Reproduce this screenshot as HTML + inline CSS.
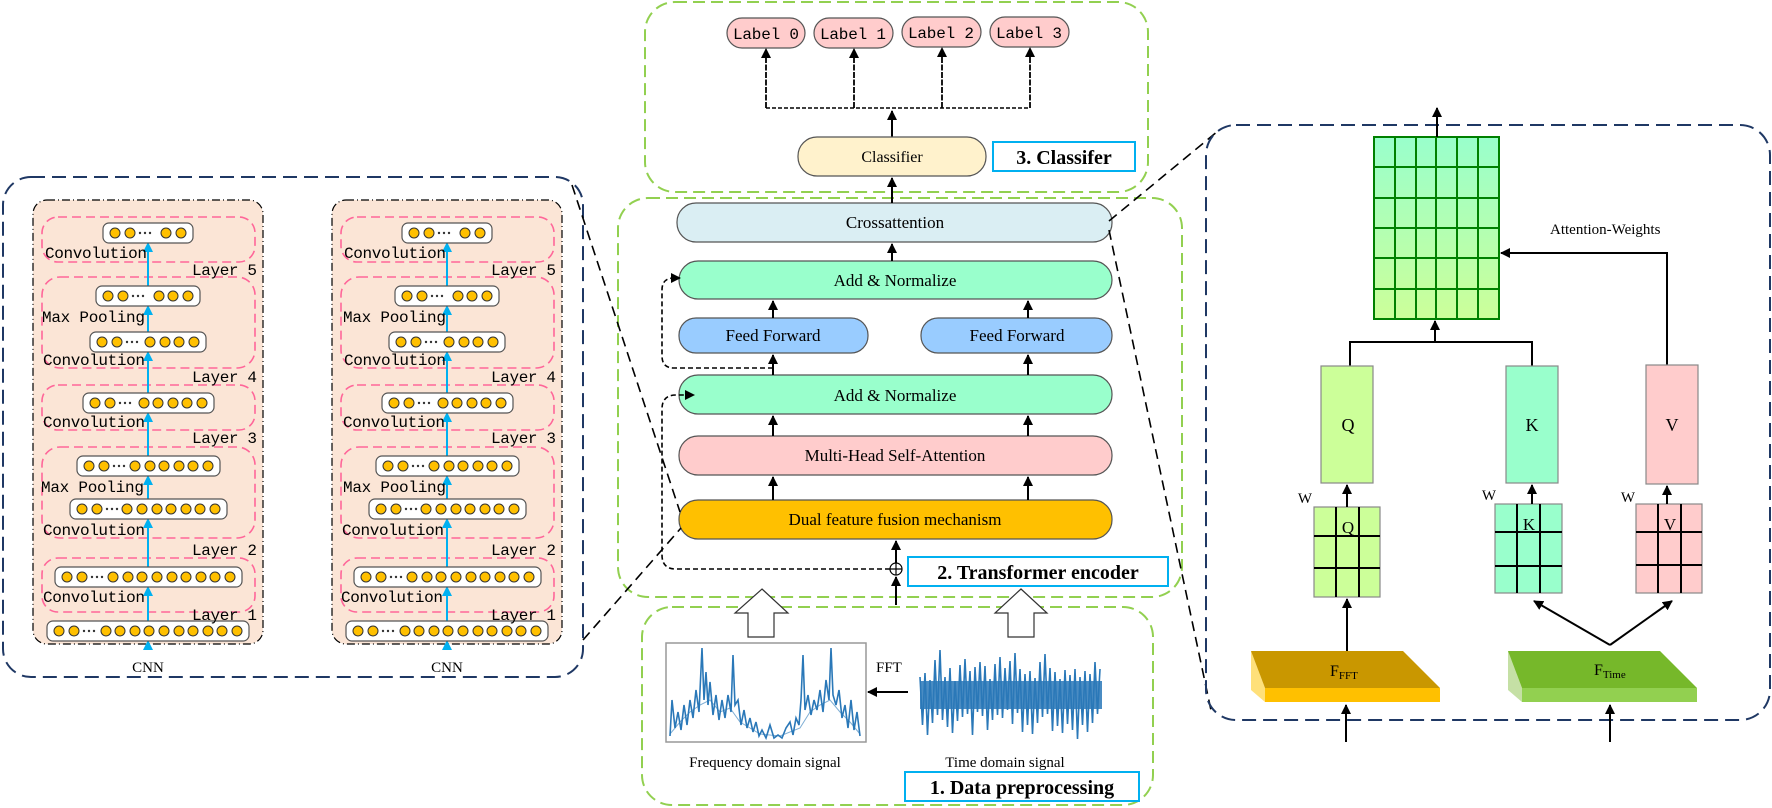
<!DOCTYPE html>
<html><head><meta charset="utf-8"><style>html,body{margin:0;padding:0;background:#fff}svg{display:block}</style></head><body>
<svg width="1772" height="808" viewBox="0 0 1772 808" xmlns="http://www.w3.org/2000/svg">
<defs>
<marker id="ah" markerWidth="10" markerHeight="10" refX="9" refY="5" orient="auto" markerUnits="userSpaceOnUse"><path d="M0,0 L10,5 L0,10 z" fill="#000"/></marker>
<marker id="ac" markerWidth="10" markerHeight="10" refX="9" refY="5" orient="auto" markerUnits="userSpaceOnUse"><path d="M0,0 L10,5 L0,10 z" fill="#00b0f0"/></marker>
<linearGradient id="gg" x1="0" y1="0" x2="0" y2="1"><stop offset="0" stop-color="#99ffcc"/><stop offset="1" stop-color="#ccff99"/></linearGradient>
<g id="c"><circle r="5" fill="#ffc000" stroke="#333" stroke-width="1"/></g>
</defs>
<style>
.s{font-family:"Liberation Serif",serif}
.m{font-family:"Liberation Mono",monospace}
.b{font-family:"Liberation Serif",serif;font-weight:bold}
</style>

<rect x="3" y="177" width="580" height="500" rx="28" fill="none" stroke="#1f3864" stroke-width="2" stroke-dasharray="14,7"/>

<g id="cnn">
<rect x="33" y="200" width="230" height="444" rx="14" fill="#fbe5d6" stroke="#000" stroke-width="1.2" stroke-dasharray="8,3,1,3"/>
<g fill="none" stroke="#ff6699" stroke-width="1.6" stroke-dasharray="9,5">
<rect x="42" y="217" width="213" height="45" rx="16"/>
<rect x="42" y="277" width="213" height="91" rx="18"/>
<rect x="42" y="385" width="213" height="45" rx="16"/>
<rect x="42" y="447" width="213" height="91" rx="18"/>
<rect x="42" y="558" width="213" height="54" rx="16"/>
</g>
<g stroke="#00b0f0" stroke-width="2" marker-end="url(#ac)">
<line x1="148" y1="644" x2="148" y2="641"/>
<line x1="148" y1="621" x2="148" y2="587"/>
<line x1="148" y1="567" x2="148" y2="519"/>
<line x1="148" y1="499" x2="148" y2="476"/>
<line x1="148" y1="456" x2="148" y2="413"/>
<line x1="148" y1="393" x2="148" y2="352"/>
<line x1="148" y1="332" x2="148" y2="306"/>
<line x1="148" y1="286" x2="148" y2="243"/>
</g>
<g fill="#fff" stroke="#555" stroke-width="1.2">
<rect x="103" y="223" width="90" height="20" rx="6"/>
<rect x="96" y="286" width="104" height="20" rx="6"/>
<rect x="90" y="332" width="116" height="20" rx="6"/>
<rect x="83" y="393" width="131" height="20" rx="6"/>
<rect x="77" y="456" width="143" height="20" rx="6"/>
<rect x="70" y="499" width="157" height="20" rx="6"/>
<rect x="55" y="567" width="187" height="20" rx="6"/>
<rect x="47" y="621" width="202" height="20" rx="6"/>
</g>
<g>
<use href="#c" x="115" y="233"/><use href="#c" x="130" y="233"/><use href="#c" x="166" y="233"/><use href="#c" x="181" y="233"/>
<use href="#c" x="108" y="296"/><use href="#c" x="123" y="296"/><use href="#c" x="159" y="296"/><use href="#c" x="173" y="296"/><use href="#c" x="188" y="296"/>
<use href="#c" x="102" y="342"/><use href="#c" x="117" y="342"/><use href="#c" x="150" y="342"/><use href="#c" x="165" y="342"/><use href="#c" x="179" y="342"/><use href="#c" x="194" y="342"/>
<use href="#c" x="95" y="403"/><use href="#c" x="110" y="403"/><use href="#c" x="144" y="403"/><use href="#c" x="158" y="403"/><use href="#c" x="173" y="403"/><use href="#c" x="187" y="403"/><use href="#c" x="202" y="403"/>
<use href="#c" x="89" y="466"/><use href="#c" x="104" y="466"/><use href="#c" x="135" y="466"/><use href="#c" x="150" y="466"/><use href="#c" x="164" y="466"/><use href="#c" x="179" y="466"/><use href="#c" x="193" y="466"/><use href="#c" x="208" y="466"/>
<use href="#c" x="82" y="509"/><use href="#c" x="97" y="509"/><use href="#c" x="127" y="509"/><use href="#c" x="142" y="509"/><use href="#c" x="157" y="509"/><use href="#c" x="171" y="509"/><use href="#c" x="186" y="509"/><use href="#c" x="200" y="509"/><use href="#c" x="215" y="509"/>
<use href="#c" x="67" y="577"/><use href="#c" x="82" y="577"/><use href="#c" x="113" y="577"/><use href="#c" x="128" y="577"/><use href="#c" x="142" y="577"/><use href="#c" x="157" y="577"/><use href="#c" x="172" y="577"/><use href="#c" x="186" y="577"/><use href="#c" x="201" y="577"/><use href="#c" x="215" y="577"/><use href="#c" x="230" y="577"/>
<use href="#c" x="59" y="631"/><use href="#c" x="74" y="631"/><use href="#c" x="106" y="631"/><use href="#c" x="120" y="631"/><use href="#c" x="135" y="631"/><use href="#c" x="149" y="631"/><use href="#c" x="164" y="631"/><use href="#c" x="179" y="631"/><use href="#c" x="193" y="631"/><use href="#c" x="208" y="631"/><use href="#c" x="222" y="631"/><use href="#c" x="237" y="631"/>
</g>
<g fill="#333">
<circle cx="140" cy="233" r="1.2"/><circle cx="145" cy="233" r="1.2"/><circle cx="150" cy="233" r="1.2"/>
<circle cx="133" cy="296" r="1.2"/><circle cx="138" cy="296" r="1.2"/><circle cx="143" cy="296" r="1.2"/>
<circle cx="127" cy="342" r="1.2"/><circle cx="132" cy="342" r="1.2"/><circle cx="137" cy="342" r="1.2"/>
<circle cx="120" cy="403" r="1.2"/><circle cx="125" cy="403" r="1.2"/><circle cx="130" cy="403" r="1.2"/>
<circle cx="114" cy="466" r="1.2"/><circle cx="119" cy="466" r="1.2"/><circle cx="124" cy="466" r="1.2"/>
<circle cx="107" cy="509" r="1.2"/><circle cx="112" cy="509" r="1.2"/><circle cx="117" cy="509" r="1.2"/>
<circle cx="92" cy="577" r="1.2"/><circle cx="97" cy="577" r="1.2"/><circle cx="102" cy="577" r="1.2"/>
<circle cx="84" cy="631" r="1.2"/><circle cx="89" cy="631" r="1.2"/><circle cx="94" cy="631" r="1.2"/>
</g>
</g>
<use href="#cnn" x="299"/>

<g class="m" font-size="16" fill="#000">
<text x="45" y="258" textLength="102">Convolution</text>
<text x="192" y="275" textLength="65">Layer 5</text>
<text x="42" y="322" textLength="103">Max Pooling</text>
<text x="43" y="365" textLength="102">Convolution</text>
<text x="192" y="382" textLength="65">Layer 4</text>
<text x="43" y="427" textLength="102">Convolution</text>
<text x="192" y="443" textLength="65">Layer 3</text>
<text x="41" y="492" textLength="103">Max Pooling</text>
<text x="43" y="535" textLength="102">Convolution</text>
<text x="192" y="555" textLength="65">Layer 2</text>
<text x="43" y="602" textLength="102">Convolution</text>
<text x="192" y="620" textLength="65">Layer 1</text>
<text x="344" y="258" textLength="102">Convolution</text>
<text x="491" y="275" textLength="65">Layer 5</text>
<text x="343" y="322" textLength="103">Max Pooling</text>
<text x="344" y="365" textLength="102">Convolution</text>
<text x="491" y="382" textLength="65">Layer 4</text>
<text x="343" y="427" textLength="102">Convolution</text>
<text x="491" y="443" textLength="65">Layer 3</text>
<text x="343" y="492" textLength="103">Max Pooling</text>
<text x="342" y="535" textLength="102">Convolution</text>
<text x="491" y="555" textLength="65">Layer 2</text>
<text x="341" y="602" textLength="102">Convolution</text>
<text x="491" y="620" textLength="65">Layer 1</text>
</g>
<g class="s" font-size="15" text-anchor="middle"><text x="148" y="672">CNN</text><text x="447" y="672">CNN</text></g>

<rect x="645" y="2" width="503" height="190" rx="30" fill="none" stroke="#92d050" stroke-width="2" stroke-dasharray="12,6"/>
<g fill="#ffcccc" stroke="#555" stroke-width="1.2">
<rect x="727" y="18" width="78" height="30" rx="15"/>
<rect x="814" y="18" width="79" height="30" rx="15"/>
<rect x="902" y="17" width="79" height="30" rx="15"/>
<rect x="990" y="17" width="79" height="30" rx="15"/>
</g>
<g class="m" font-size="16" text-anchor="middle">
<text x="766" y="39" textLength="66">Label 0</text><text x="853" y="39" textLength="66">Label 1</text><text x="941" y="38" textLength="66">Label 2</text><text x="1029" y="38" textLength="66">Label 3</text>
</g>
<g stroke="#000" stroke-width="1.5" stroke-dasharray="4,2" fill="none">
<path d="M766,108 H1030"/>
</g>
<g stroke="#000" stroke-width="1.8" stroke-dasharray="6,1.5" marker-end="url(#ah)">
<line x1="766" y1="108" x2="766" y2="49"/><line x1="854" y1="108" x2="854" y2="49"/><line x1="942" y1="108" x2="942" y2="48"/><line x1="1030" y1="108" x2="1030" y2="48"/>
</g>
<line x1="892" y1="137" x2="892" y2="111" stroke="#000" stroke-width="2" marker-end="url(#ah)"/>
<rect x="798" y="137" width="188" height="39" rx="19" fill="#fff2cc" stroke="#555" stroke-width="1.2"/>
<text class="s" x="892" y="162" font-size="16" text-anchor="middle">Classifier</text>
<rect x="993" y="142" width="142" height="29" fill="#fff" stroke="#00b0f0" stroke-width="2"/>
<text class="b" x="1064" y="164" font-size="20" text-anchor="middle">3. Classifer</text>

<rect x="618" y="198" width="564" height="399" rx="30" fill="none" stroke="#92d050" stroke-width="2" stroke-dasharray="12,6"/>
<g stroke="#555" stroke-width="1.2">
<rect x="677" y="203" width="435" height="39" rx="19" fill="#daeef3"/>
<rect x="679" y="261" width="433" height="38" rx="19" fill="#99ffcc"/>
<rect x="679" y="318" width="189" height="35" rx="17" fill="#99ccff"/>
<rect x="921" y="318" width="191" height="35" rx="17" fill="#99ccff"/>
<rect x="679" y="375" width="433" height="39" rx="19" fill="#99ffcc"/>
<rect x="679" y="436" width="433" height="39" rx="19" fill="#ffcccc"/>
<rect x="679" y="500" width="433" height="39" rx="19" fill="#ffc000"/>
</g>
<g class="s" font-size="17" text-anchor="middle">
<text x="895" y="228">Crossattention</text>
<text x="895" y="286">Add &amp; Normalize</text>
<text x="773" y="341">Feed Forward</text>
<text x="1017" y="341">Feed Forward</text>
<text x="895" y="401">Add &amp; Normalize</text>
<text x="895" y="461">Multi-Head Self-Attention</text>
<text x="895" y="525">Dual feature fusion mechanism</text>
</g>
<g stroke="#000" stroke-width="2" marker-end="url(#ah)">
<line x1="892" y1="203" x2="892" y2="178"/>
<line x1="892" y1="261" x2="892" y2="244"/>
<line x1="773" y1="318" x2="773" y2="301"/><line x1="1028" y1="318" x2="1028" y2="301"/>
<line x1="773" y1="375" x2="773" y2="355"/><line x1="1028" y1="375" x2="1028" y2="355"/>
<line x1="773" y1="436" x2="773" y2="416"/><line x1="1028" y1="436" x2="1028" y2="416"/>
<line x1="773" y1="500" x2="773" y2="477"/><line x1="1028" y1="500" x2="1028" y2="477"/>
<line x1="896" y1="563" x2="896" y2="541"/>
<line x1="896" y1="605" x2="896" y2="577"/>
</g>
<g stroke="#000" stroke-width="1.6" stroke-dasharray="5,3" fill="none" marker-end="url(#ah)">
<path d="M773,368 H674 Q662,368 662,356 V290 Q662,278 674,278 H680"/>
<path d="M890,569 H676 Q662,569 662,555 V409 Q662,395 676,395 H694"/>
</g>
<circle cx="896" cy="569" r="6" fill="#fff" stroke="#000" stroke-width="1.2"/>
<path d="M890,569 H902 M896,563 V575" stroke="#000" stroke-width="1.2"/>
<rect x="908" y="557" width="260" height="29" fill="#fff" stroke="#00b0f0" stroke-width="2"/>
<text class="b" x="1038" y="579" font-size="20" text-anchor="middle">2. Transformer encoder</text>

<rect x="642" y="607" width="511" height="198" rx="30" fill="none" stroke="#92d050" stroke-width="2" stroke-dasharray="12,6"/>
<path d="M762,589 L788,613 L774,613 L774,637 L748,637 L748,613 L735,613 Z" fill="#fff" stroke="#333" stroke-width="1.2"/>
<path d="M1021,589 L1047,613 L1034,613 L1034,637 L1008,637 L1008,613 L995,613 Z" fill="#fff" stroke="#333" stroke-width="1.2"/>
<rect x="666" y="643" width="200" height="99" fill="#fff" stroke="#999" stroke-width="1.5"/>
<polyline fill="none" stroke="#2a78b8" stroke-width="1.6" points="670,736 672,700 675,728 678,712 681,730 684,705 687,725 690,700 693,718 696,690 699,712 702,648 704,700 706,672 708,705 710,682 713,715 716,695 719,720 722,700 725,718 728,695 731,712 733,655 735,705 738,700 741,725 744,710 747,728 750,718 753,732 756,722 759,736 762,730 766,738 770,725 774,738 778,735 782,738 786,728 790,722 793,735 796,718 799,725 801,700 803,655 805,710 808,695 811,715 814,700 817,710 820,690 823,712 826,680 829,700 831,648 833,695 836,705 839,690 842,718 845,705 848,728 851,700 854,730 857,712 860,736"/>
<polyline fill="none" stroke="#2a78b8" stroke-width="1" opacity="0.6" points="670,734 680,722 690,712 700,705 710,700 720,712 730,708 740,722 750,728 760,734 780,736 800,728 810,712 820,705 830,700 840,712 850,722 860,734"/>
<rect x="920" y="681" width="182" height="28" fill="#2a78b8" opacity="0.85"/>
<polyline fill="none" stroke="#2a78b8" stroke-width="1.6" points="920,677 922.5,725 925,673 927.5,735 930,680 932.5,723 935,660 937.5,715 940,650 942.5,720 945,677 947.5,727 950,668 952.5,733 955,681 957.5,721 960,665 962.5,717 965,659 967.5,714 970,671 972.5,735 975,667 977.5,712 980,662 982.5,716 985,666 987.5,730 990,679 992.5,720 995,664 997.5,715 1000,657 1002.5,718 1005,668 1007.5,710 1010,661 1012.5,724 1015,653 1017.5,713 1020,669 1022.5,732 1025,674 1027.5,725 1030,671 1032.5,734 1035,678 1037.5,723 1040,662 1042.5,717 1045,654 1047.5,714 1050,668 1052.5,731 1055,672 1057.5,726 1060,679 1062.5,733 1065,670 1067.5,724 1070,675 1072.5,730 1075,669 1077.5,739 1080,677 1082.5,725 1085,671 1087.5,732 1090,674 1092.5,723 1095,662 1097.5,714 1100,669"/>
<text class="s" x="876" y="672" font-size="15">FFT</text>
<line x1="908" y1="692" x2="868" y2="692" stroke="#000" stroke-width="2" marker-end="url(#ah)"/>
<text class="s" x="765" y="767" font-size="15" text-anchor="middle">Frequency domain signal</text>
<text class="s" x="1005" y="767" font-size="15" text-anchor="middle">Time domain signal</text>
<rect x="905" y="772" width="234" height="29" fill="#fff" stroke="#00b0f0" stroke-width="2"/>
<text class="b" x="1022" y="794" font-size="20" text-anchor="middle">1. Data preprocessing</text>

<g stroke="#000" stroke-width="1.6" stroke-dasharray="10,6" fill="none">
<line x1="572" y1="185" x2="680" y2="512"/>
<line x1="583" y1="640" x2="681" y2="528"/>
<line x1="1109" y1="221" x2="1218" y2="131"/>
<line x1="1109" y1="230" x2="1212" y2="715"/>
</g>

<rect x="1206" y="125" width="564" height="595" rx="30" fill="none" stroke="#1f3864" stroke-width="2" stroke-dasharray="14,7"/>
<rect x="1374" y="137" width="125" height="182" fill="url(#gg)"/>
<g stroke="#008000" stroke-width="2" fill="none">
<rect x="1374" y="137" width="125" height="182"/>
<path d="M1395,137V319 M1416,137V319 M1436,137V319 M1457,137V319 M1478,137V319 M1374,167H1499 M1374,198H1499 M1374,228H1499 M1374,258H1499 M1374,289H1499"/>
</g>
<line x1="1437" y1="137" x2="1437" y2="108" stroke="#000" stroke-width="2" marker-end="url(#ah)"/>
<path d="M1350,366 V342 H1532 V366" fill="none" stroke="#000" stroke-width="2"/>
<line x1="1435" y1="342" x2="1435" y2="321" stroke="#000" stroke-width="2" marker-end="url(#ah)"/>
<path d="M1667,365 V253 H1501" fill="none" stroke="#000" stroke-width="2" marker-end="url(#ah)"/>
<text class="s" x="1550" y="234" font-size="15">Attention-Weights</text>

<g stroke="#888" stroke-width="1.2">
<rect x="1321" y="366" width="52" height="117" fill="#ccff99"/>
<rect x="1506" y="366" width="52" height="117" fill="#99ffcc"/>
<rect x="1646" y="365" width="52" height="119" fill="#ffcccc"/>
<rect x="1314" y="507" width="66" height="90" fill="#ccff99"/>
<rect x="1495" y="504" width="67" height="89" fill="#99ffcc"/>
<rect x="1636" y="504" width="66" height="89" fill="#ffcccc"/>
</g>
<g stroke="#000" stroke-width="2">
<path d="M1336,507V597 M1359,507V597 M1314,536H1380 M1314,568H1380"/>
<path d="M1517,504V593 M1540,504V593 M1495,532H1562 M1495,566H1562"/>
<path d="M1658,504V593 M1681,504V593 M1636,532H1702 M1636,565H1702"/>
</g>
<g class="s" font-size="18" text-anchor="middle">
<text x="1348" y="431">Q</text><text x="1532" y="431">K</text><text x="1672" y="431">V</text>
<text x="1348" y="533" font-size="17">Q</text><text x="1529" y="530" font-size="17">K</text><text x="1670" y="530" font-size="17">V</text>
</g>
<g class="s" font-size="15" text-anchor="middle"><text x="1305" y="503">W</text><text x="1489" y="500">W</text><text x="1628" y="502">W</text></g>
<g stroke="#000" stroke-width="2" marker-end="url(#ah)">
<line x1="1347" y1="507" x2="1347" y2="485"/>
<line x1="1532" y1="504" x2="1532" y2="485"/>
<line x1="1667" y1="504" x2="1667" y2="486"/>
<line x1="1347" y1="651" x2="1347" y2="599"/>
<line x1="1610" y1="645" x2="1534" y2="601"/>
<line x1="1610" y1="645" x2="1672" y2="601"/>
<line x1="1346" y1="742" x2="1346" y2="705"/>
<line x1="1610" y1="742" x2="1610" y2="705"/>
</g>
<polygon points="1251,651 1265,688 1265,702 1251,690" fill="#ffe07a"/>
<polygon points="1251,651 1403,651 1440,688 1265,688" fill="#c99700"/>
<polygon points="1265,688 1440,688 1440,702 1265,702" fill="#ffc000"/>
<text class="s" x="1330" y="676" font-size="16">F<tspan font-size="11" dy="3">FFT</tspan></text>
<polygon points="1508,651 1522,688 1522,702 1508,690" fill="#c5e0a5"/>
<polygon points="1508,651 1660,651 1697,688 1522,688" fill="#76b82a"/>
<polygon points="1522,688 1697,688 1697,702 1522,702" fill="#92d050"/>
<text class="s" x="1594" y="675" font-size="16">F<tspan font-size="11" dy="3">Time</tspan></text>
</svg>
</body></html>
